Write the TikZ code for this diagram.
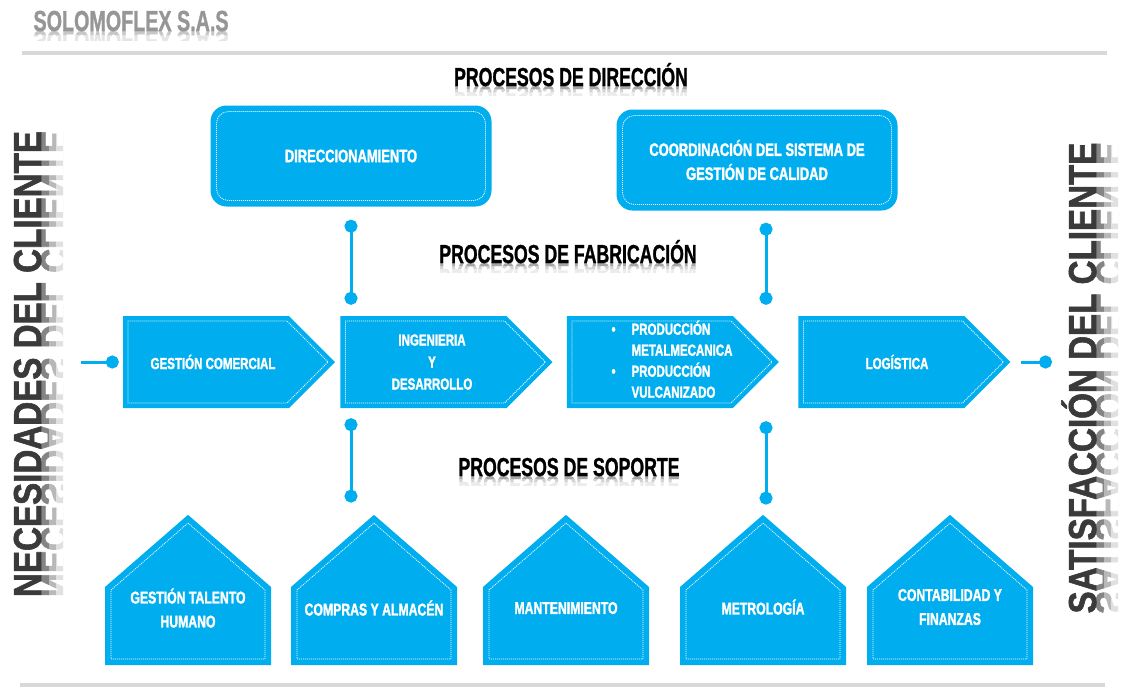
\documentclass[tikz,border=0pt]{standalone}
\usepackage{fontspec}
\newfontfamily\boxfont{Liberation Sans}[UprightFont={* Bold},FakeStretch=0.72,FakeBold=1.6]
\newfontfamily\titlefont{Liberation Sans}[UprightFont={* Bold},FakeStretch=0.68,FakeBold=1]
\newfontfamily\sidefont{Liberation Sans}[UprightFont={* Bold},FakeStretch=0.85,FakeBold=1.5]
\usetikzlibrary{shapes,arrows.meta,positioning,calc}
\definecolor{procblue}{RGB}{0,174,239}
\definecolor{sidegray}{RGB}{58,58,58}
\definecolor{rulegray}{RGB}{216,216,216}
\definecolor{logogray}{RGB}{150,150,150}

\tikzset{
  dirbox/.style={rectangle,rounded corners=16pt,fill=procblue,text=white,align=center,
    minimum width=281pt,minimum height=101pt,font=\boxfont\fontsize{18}{24}\selectfont},
  dirline/.style={rectangle,rounded corners=12pt,draw=white,line width=0.8pt,
    dash pattern=on 1pt off 1pt,minimum width=269pt,minimum height=89pt},
  flowbox/.style={signal,signal to=east,signal from=nowhere,signal pointer angle=90,
    fill=procblue,inner sep=0pt,text width=166pt,text height=92pt,text depth=0pt},
  flowline/.style={signal,signal to=east,signal from=nowhere,signal pointer angle=90,
    draw=white,line width=0.8pt,dash pattern=on 1pt off 1pt,inner sep=0pt,
    text width=159pt,text height=82pt,text depth=0pt},
  flowtext/.style={text=white,align=center,font=\boxfont\fontsize{16}{22}\selectfont},
  housebox/.style={signal,signal to=north,signal from=nowhere,signal pointer angle=98,
    fill=procblue,inner sep=0pt,text width=166pt,text height=78pt,text depth=0pt},
  houseline/.style={signal,signal to=north,signal from=nowhere,signal pointer angle=98,
    draw=white,line width=0.8pt,dash pattern=on 1pt off 1pt,inner sep=0pt,
    text width=154pt,text height=69pt,text depth=0pt},
  housetext/.style={text=white,align=center,font=\boxfont\fontsize{17}{24}\selectfont},
  title/.style={font=\titlefont\fontsize{26}{28}\selectfont,text=black,anchor=base},
  sidetext/.style={font=\sidefont\fontsize{39}{42}\selectfont,text=sidegray,rotate=90,anchor=base},
  link/.style={draw=procblue,line width=3pt}
}

\begin{document}
\begin{tikzpicture}[x=1pt,y=-1pt,node distance=10pt]
  \useasboundingbox (0,0) rectangle (1127,689);

  \foreach \a/\b/\c in {0/4/22,4/9/10} {
    \begin{scope}
      \clip (20,31+\a) rectangle (240,31+\b);
      \node[title,anchor=base west,font=\titlefont\fontsize{29}{30}\selectfont,text=black!\c,yscale=-1] at (30,31) {SOLOMOFLEX S.A.S};
    \end{scope}
  }
  \node[title,anchor=base west,font=\titlefont\fontsize{29}{30}\selectfont,text=logogray] (logo) at (30,31) {SOLOMOFLEX S.A.S};
  \draw[rulegray,line width=4pt] (22,53) -- (1107,53);
  \draw[rulegray,line width=4pt] (20,685) -- (1105,685);

  \foreach \a/\b/\c in {0/8/48,8/15/28,15/22/12} {
    \begin{scope}
      \clip (41+\a,100) rectangle (41+\b,640);
      \node[sidetext,text=black!\c,yscale=-1] at (41,364) {NECESIDADES DEL CLIENTE};
    \end{scope}
    \begin{scope}
      \clip (1096+\a,100) rectangle (1096+\b,650);
      \node[sidetext,text=black!\c,yscale=-1] at (1096,378) {SATISFACCIÓN DEL CLIENTE};
    \end{scope}
  }
  \node[sidetext] (need) at (41,364) {NECESIDADES DEL CLIENTE};
  \node[sidetext] (sat) at (1096,378) {SATISFACCIÓN DEL CLIENTE};

  \foreach \a/\b/\c in {0/3/35,3/6/18,6/9/8} {
    \begin{scope}
      \clip (400,86+\a) rectangle (740,86+\b);
      \node[title,text=black!\c,yscale=-1] at (571,86) {PROCESOS DE DIRECCIÓN};
    \end{scope}
    \begin{scope}
      \clip (400,263+\a) rectangle (740,263+\b);
      \node[title,text=black!\c,yscale=-1] at (568,263) {PROCESOS DE FABRICACIÓN};
    \end{scope}
    \begin{scope}
      \clip (400,476+\a) rectangle (740,476+\b);
      \node[title,text=black!\c,yscale=-1] at (569,476) {PROCESOS DE SOPORTE};
    \end{scope}
  }
  \node[title] (tdir) at (571,86) {PROCESOS DE DIRECCIÓN};
  \node[title] (tfab) at (568,263) {PROCESOS DE FABRICACIÓN};
  \node[title] (tsop) at (569,476) {PROCESOS DE SOPORTE};

  \node[dirbox] (dir) at (351,156) {DIRECCIONAMIENTO};
  \node[dirbox] (coord) at (757,160) {COORDINACIÓN DEL SISTEMA DE\\GESTIÓN DE CALIDAD};

  \node[flowbox] (gc) at (206,362) {};
  \node[flowbox] (ing) [right=5pt of gc] {};
  \node[flowbox] (prod) [right=14pt of ing] {};
  \node[flowbox] (log) [right=19pt of prod] {};

  \node[housebox] (gth) at (188,626) {};
  \node[housebox] (comp) at (374,626) {};
  \node[housebox] (mant) at (566,626) {};
  \node[housebox] (metr) at (763,626) {};
  \node[housebox] (cont) at (950,626) {};

  \foreach \n in {dir,coord} \node[dirline] at (\n) {};
  \foreach \n in {gc,ing,prod,log} \node[flowline] at ([xshift=1.5pt]\n) {};
  \foreach \n in {gth,comp,mant,metr,cont} \node[houseline] at ([yshift=1.5pt]\n) {};

  \node[flowtext] (gct) at (213,362) {GESTIÓN COMERCIAL};
  \node[flowtext] (ingt) at (432,362) {INGENIERIA\\Y\\DESARROLLO};
  \node[flowtext,font=\boxfont\fontsize{16}{21}\selectfont] (prodt) at (672,362) {%
    \begin{tabular}{@{}l@{\hspace{16pt}}l@{}}
      \textbullet & PRODUCCIÓN\\
                  & METALMECANICA\\
      \textbullet & PRODUCCIÓN\\
                  & VULCANIZADO
    \end{tabular}};
  \node[flowtext] (logt) at (897,362) {LOGÍSTICA};

  \node[housetext] (gtht) at (188,608) {GESTIÓN TALENTO\\HUMANO};
  \node[housetext] (compt) at (374,608) {COMPRAS Y ALMACÉN};
  \node[housetext] (mantt) at (566,608) {MANTENIMIENTO};
  \node[housetext] (metrt) at (763,607) {METROLOGÍA};
  \node[housetext] (contt) at (950,607) {CONTABILIDAD Y\\FINANZAS};

  \coordinate (in) at (81,362);
  \coordinate (out) at (1052,362);
  \draw[link,-{Circle[length=13pt]},shorten >=4pt] (in) -- (gc.west);
  \draw[link,-{Circle[length=13pt]},shorten <=10pt] (log.east) -- (out);

  \draw[link,{Circle[length=13pt]}-{Circle[length=13pt]},shorten <=13pt,shorten >=11pt]
    (dir.south) -- (dir.south |- ing.north);
  \draw[link,{Circle[length=13pt]}-{Circle[length=13pt]},shorten <=12pt,shorten >=11pt]
    ([xshift=9pt]coord.south) -- ([xshift=9pt]coord.south |- prod.north);
  \draw[link,{Circle[length=13pt]}-{Circle[length=13pt]},shorten <=10pt,shorten >=12pt]
    (dir.south |- ing.south) -- (dir.south |- comp.north);
  \draw[link,{Circle[length=13pt]}-{Circle[length=13pt]},shorten <=13pt,shorten >=10pt]
    ([xshift=9pt]coord.south |- prod.south) -- ([xshift=9pt]coord.south |- metr.north);
\end{tikzpicture}
\end{document}
